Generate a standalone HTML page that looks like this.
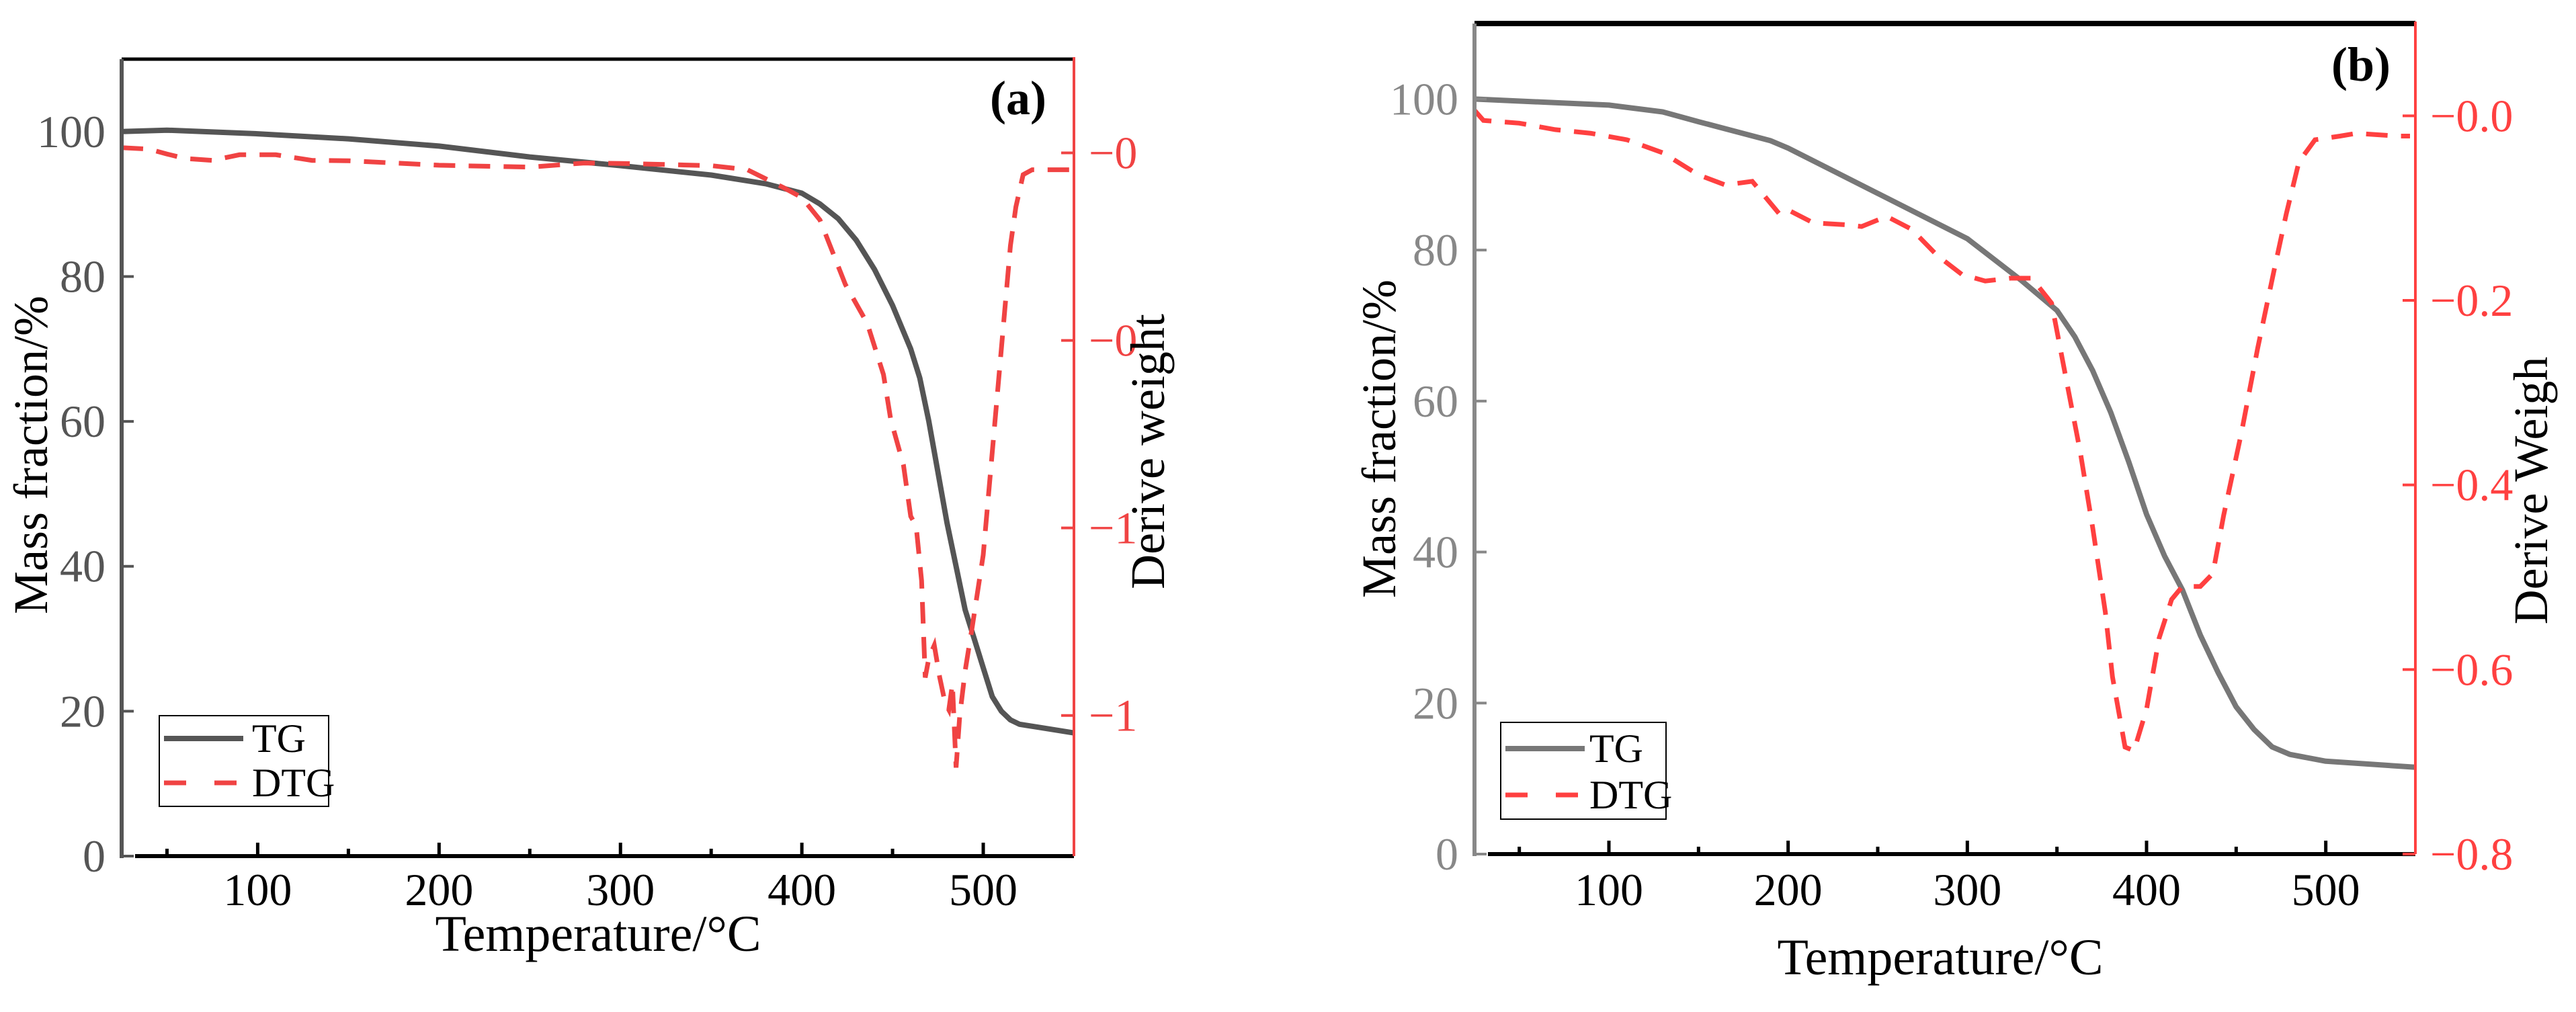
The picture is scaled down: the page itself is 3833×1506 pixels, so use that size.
<!DOCTYPE html>
<html><head><meta charset="utf-8"><style>
html,body{margin:0;padding:0;background:#fff}
svg{display:block}
text{font-family:"Liberation Serif",serif}
</style></head><body>
<svg id="fig" width="3833" height="1506" viewBox="0 0 3833 1506" xmlns="http://www.w3.org/2000/svg"></svg>
<script>
// Panel (a) data
const aTgTemp = [25,50,100,150,200,250,300,350,380,400,410,420,430,440,450,460,465,470,475,480,485,490,495,500,505,510,515,520,530,550];
const aTgMass = [100,100.2,99.7,99,98,96.5,95.3,94,92.8,91.5,90,88,85,81,76,70,66,60,53,46,40,34,30,26,22,20,18.8,18.2,17.8,17];
const aDtgTemp = [25,40,50,60,75,90,110,130,150,200,250,280,300,350,370,390,400,410,424,436,445,449,456,460,463,466,468,470,473,476,479,481,483,485,487,490,494,500,505,510,515,518,522,527,550];
const aDtgVal = [0.014,0.01,-0.003,-0.015,-0.02,-0.005,-0.005,-0.02,-0.021,-0.033,-0.038,-0.027,-0.028,-0.034,-0.045,-0.093,-0.119,-0.179,-0.351,-0.454,-0.591,-0.711,-0.832,-0.969,-0.995,-1.141,-1.399,-1.347,-1.313,-1.399,-1.467,-1.485,-1.416,-1.639,-1.502,-1.381,-1.261,-1.072,-0.797,-0.522,-0.247,-0.144,-0.058,-0.045,-0.045];
const aRightTicks = [0,-0.5,-1,-1.5];
const aRightLabels = ["\u22120","\u22120","\u22121","\u22121"];
// Panel (b) data
const bTgTemp = [25,100,130,150,190,200,250,300,330,350,360,370,380,390,400,410,420,430,440,450,460,470,480,500,550];
const bTgMass = [100,99.2,98.3,97,94.5,93.5,87.5,81.5,76,72,68.5,64,58.5,52,45,39.5,35,29,24,19.5,16.5,14.2,13.2,12.3,11.5];
const bDtgTemp = [25,30,50,70,90,110,130,150,165,180,195,200,214,232,241,255,269,283,297,310,324,336,347,356,363,370,377,381,388,393,400,407,414,420,430,437,443,453,462,471,478,485,494,508,517,540,547];
const bDtgVal = [0.006,-0.005,-0.008,-0.015,-0.019,-0.026,-0.04,-0.064,-0.075,-0.071,-0.106,-0.102,-0.116,-0.118,-0.12,-0.109,-0.123,-0.151,-0.172,-0.179,-0.176,-0.176,-0.203,-0.294,-0.364,-0.447,-0.538,-0.608,-0.684,-0.688,-0.643,-0.566,-0.524,-0.51,-0.51,-0.496,-0.433,-0.343,-0.252,-0.169,-0.106,-0.05,-0.026,-0.022,-0.019,-0.022,-0.022];
const bRightTicks = [0,-0.2,-0.4,-0.6,-0.8];
const bRightLabels = ["\u22120.0","\u22120.2","\u22120.4","\u22120.6","\u22120.8"];
const xTicks = [100,200,300,400,500];
const xMinor = [50,150,250,350,450,550];
const yTicks = [0,20,40,60,80,100];

const NS = "http://www.w3.org/2000/svg";
const svg = document.getElementById('fig');
function mk(tag, attrs, parent){const e=document.createElementNS(NS,tag);for(const k in attrs)e.setAttribute(k,attrs[k]);(parent||svg).appendChild(e);return e;}

function panel(c){
  const g = mk('g',{});
  
  
  const X = v => c.L + (v - 25) / (550 - 25) * (c.R - c.L);
  const Y = v => c.B - v / 110 * (c.B - c.T);
  const Y2 = v => c.B - (v - c.rMin) / (c.rMax - c.rMin) * (c.B - c.T);
  // series
  let d = c.tgT.map((t,i)=>(i?'L':'M')+X(t).toFixed(1)+' '+Y(c.tgM[i]).toFixed(1)).join(' ');
  const tg = mk('path',{d:d,fill:'none',stroke:c.tgCol,'stroke-width':8,'stroke-linejoin':'round'},g);
  
  
  d = c.dT.map((t,i)=>(i?'L':'M')+X(t).toFixed(1)+' '+Y2(c.dV[i]).toFixed(1)).join(' ');
  const dt = mk('path',{d:d,fill:'none',stroke:c.dCol,'stroke-width':7,'stroke-dasharray':'32 20'},g);
  
  
  // axes
  const top = mk('line',{x1:c.L,y1:c.T,x2:c.R,y2:c.T,stroke:'#000','stroke-width':c.topW},g);
  
  
  const la = mk('line',{x1:c.L,y1:c.T,x2:c.L,y2:c.B+3,stroke:c.leftCol,'stroke-width':6},g);
  
  
  const ba = mk('line',{x1:c.L+20,y1:c.B,x2:c.R,y2:c.B,stroke:'#000','stroke-width':6},g);
  
  
  const ra = mk('line',{x1:c.R,y1:c.T-3,x2:c.R,y2:c.B,stroke:c.dCol,'stroke-width':4},g);
  
  
  xTicks.forEach(v=>{
    mk('line',{x1:X(v),y1:c.B,x2:X(v),y2:c.B-20,stroke:'#000','stroke-width':5},g);
    const t = mk('text',{x:X(v),y:c.xLabY,'font-size':68,'text-anchor':'middle',fill:'#000'},g);
    t.textContent = v;
    
    
  });
  xMinor.forEach(v=>{ if(v<550) mk('line',{x1:X(v),y1:c.B,x2:X(v),y2:c.B-11,stroke:'#000','stroke-width':5},g); });
  yTicks.forEach(v=>{
    mk('line',{x1:c.L,y1:Y(v),x2:c.L+18,y2:Y(v),stroke:c.leftCol,'stroke-width':4},g);
    const t = mk('text',{x:c.L-24,y:Y(v)+23,'font-size':68,'text-anchor':'end',fill:c.leftCol},g);
    t.textContent = v;
    
    
  });
  c.rTicks.forEach((v,i)=>{
    mk('line',{x1:c.R,y1:Y2(v),x2:c.R-19,y2:Y2(v),stroke:c.dCol,'stroke-width':4},g);
    const t = mk('text',{x:c.R+22,y:Y2(v)+23,'font-size':68,fill:c.dCol},g);
    t.textContent = c.rLabels[i];
    
    
  });
  // titles
  const xt = mk('text',{x:c.xtX,y:c.xtY,'font-size':76,'text-anchor':'middle',fill:'#000'},g);
  xt.textContent = 'Temperature/\u00B0C';
  
  
  const yt = mk('text',{x:0,y:0,'font-size':72,'text-anchor':'middle',fill:'#000',transform:`translate(${c.ytX},${c.ytY}) rotate(-90)`},g);
  yt.textContent = 'Mass fraction/%';
  
  
  const rt = mk('text',{x:0,y:0,'font-size':72,'text-anchor':'middle',fill:'#000',transform:`translate(${c.rtX},${c.rtY}) rotate(-90)`},g);
  rt.textContent = c.rTitle;
  
  
  const pl = mk('text',{x:c.plX,y:c.plY,'font-size':72,'font-weight':'bold','text-anchor':'middle',fill:'#000'},g);
  pl.textContent = '(' + c.id + ')';
  
  
  // legend
  const lg = mk('g',{},g);
  
  
  mk('rect',{x:c.lgX,y:c.lgY,width:c.lgW,height:c.lgH,fill:'#fff',stroke:'#000','stroke-width':2},lg);
  mk('line',{x1:c.lgX+7,y1:c.lgTgY,x2:c.lgX+125,y2:c.lgTgY,stroke:c.tgCol,'stroke-width':8},lg);
  mk('line',{x1:c.lgX+7,y1:c.lgDY,x2:c.lgX+125,y2:c.lgDY,stroke:c.dCol,'stroke-width':7,'stroke-dasharray':'33 42'},lg);
  const l1 = mk('text',{x:c.lgTx,y:c.lgTgY+20,'font-size':60,fill:'#000'},lg);
  l1.textContent='TG';
  
  
  const l2 = mk('text',{x:c.lgTx,y:c.lgDY+20,'font-size':60,fill:'#000'},lg);
  l2.textContent='DTG';
  
  
}

panel({id:'a',L:181,R:1598,T:88,B:1274,rMin:-1.875,rMax:0.25,tgT:aTgTemp,tgM:aTgMass,dT:aDtgTemp,dV:aDtgVal,
  rTicks:aRightTicks,rLabels:aRightLabels,tgCol:'#555555',dCol:'#f04343',leftCol:'#555555',topW:5,
  xLabY:1347,xtX:890,xtY:1415,ytX:70,ytY:677,rtX:1732,rtY:672,rTitle:'Derive weight',plX:1515,plY:170,
  lgX:237,lgY:1065,lgW:252,lgH:135,lgTgY:1099,lgDY:1165,lgTx:375});
panel({id:'b',L:2194,R:3594,T:35,B:1271,rMin:-0.8,rMax:0.1,tgT:bTgTemp,tgM:bTgMass,dT:bDtgTemp,dV:bDtgVal,
  rTicks:bRightTicks,rLabels:bRightLabels,tgCol:'#777777',dCol:'#ff4040',leftCol:'#888888',topW:8,
  xLabY:1347,xtX:2887,xtY:1450,ytX:2076,ytY:653,rtX:3790,rtY:730,rTitle:'Derive Weigh',plX:3513,plY:120,
  lgX:2233,lgY:1075,lgW:246,lgH:144,lgTgY:1114,lgDY:1183,lgTx:2365});
</script>
</body></html>
